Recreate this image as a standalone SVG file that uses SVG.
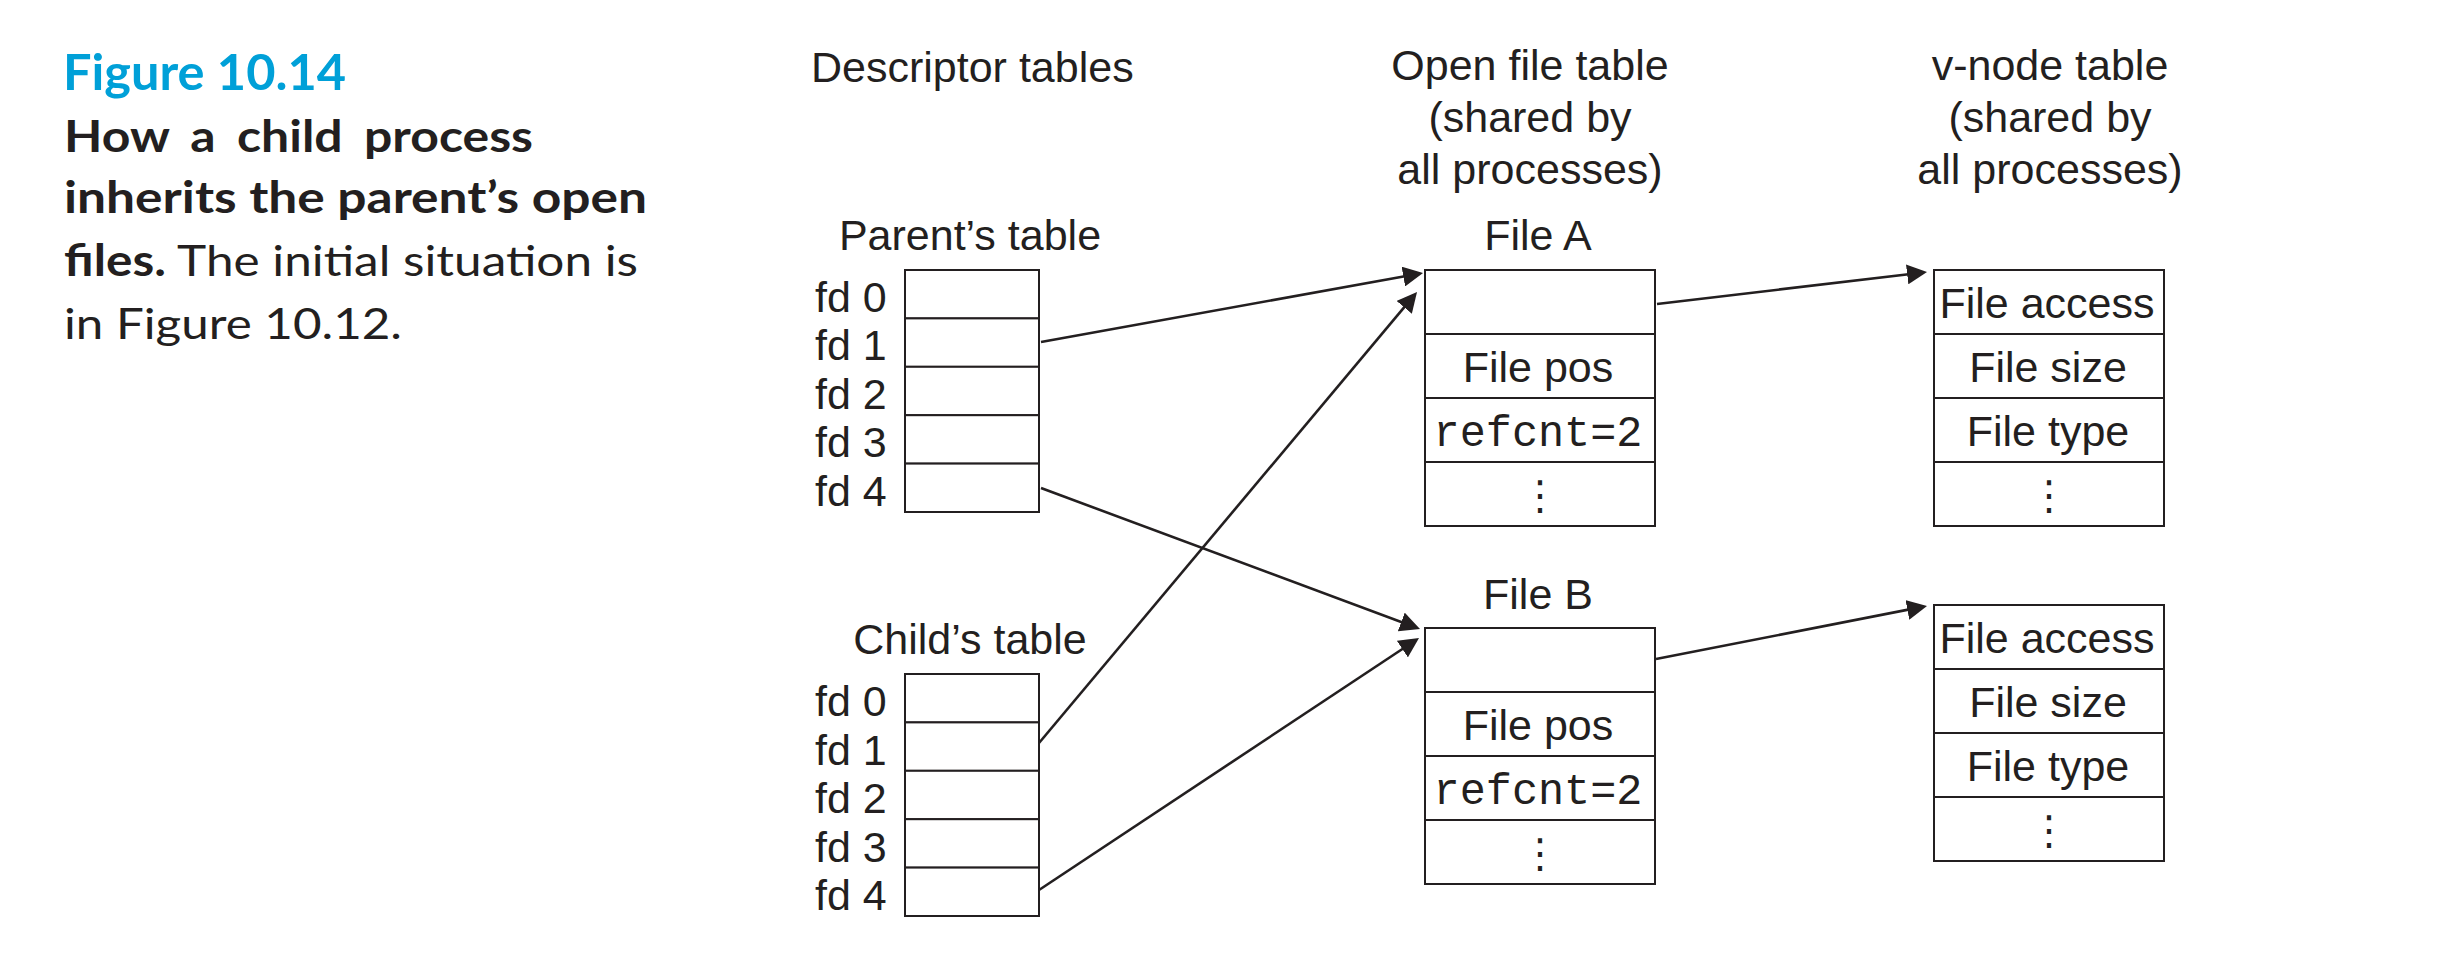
<svg xmlns="http://www.w3.org/2000/svg" width="2446" height="968" viewBox="0 0 2446 968">
<style>
  .bg { fill: #ffffff; }
  .cell { fill: #ffffff; stroke: #231f20; stroke-width: 2; }
  .t { font-family: "Liberation Sans", Arial, sans-serif; font-size: 43px; fill: #231f20; }
  .c { text-anchor: middle; }
  .mono { font-family: "Liberation Mono", "Courier New", monospace; font-size: 43.5px; fill: #231f20; text-anchor: middle; }
  .dots { font-family: "DejaVu Sans", sans-serif; font-size: 40px; fill: #231f20; text-anchor: middle; }
  .fig { font-family: Lato, "Open Sans", sans-serif; font-size: 50px; font-weight: 700; fill: #00a0d8; }
  .cap { font-family: Lato, "Open Sans", sans-serif; font-size: 43px; fill: #231f20; }
  .b { font-weight: 700; }
  .conn { fill: none; stroke: #231f20; stroke-width: 2.6; marker-end: url(#arrow); }
</style>
<defs>
  <marker id="arrow" viewBox="0 0 20 20" markerWidth="20" markerHeight="20" refX="10" refY="10" orient="auto" markerUnits="userSpaceOnUse">
    <path d="M0,0 L20,10 L0,20 z" fill="#231f20"/>
  </marker>
</defs>
<rect class="bg" x="0" y="0" width="2446" height="968"/>

<g id="caption">
  <text x="63" y="90" class="fig" textLength="283" lengthAdjust="spacingAndGlyphs">Figure 10.14</text>
  <text x="64" y="152" class="cap b" word-spacing="8" textLength="469" lengthAdjust="spacingAndGlyphs">How a child process</text>
  <text x="64" y="213" class="cap b" textLength="583" lengthAdjust="spacingAndGlyphs">inherits the parent’s open</text>
  <text x="64" y="276" class="cap" textLength="574" lengthAdjust="spacingAndGlyphs"><tspan font-weight="700">files.</tspan> The initial situation is</text>
  <text x="64" y="339" class="cap" textLength="338" lengthAdjust="spacingAndGlyphs">in Figure 10.12.</text>
</g>

<g id="headers">
  <text x="811" y="82" class="t">Descriptor tables</text>
  <text x="1530" y="80" class="t c">Open file table</text>
  <text x="1530" y="132" class="t c">(shared by</text>
  <text x="1530" y="184" class="t c">all processes)</text>
  <text x="2050" y="80" class="t c">v-node table</text>
  <text x="2050" y="132" class="t c">(shared by</text>
  <text x="2050" y="184" class="t c">all processes)</text>
</g>

<g id="parent-table">
  <text x="970" y="250" class="t c">Parent’s table</text>
  <rect class="cell" x="905" y="270" width="134" height="48.4"/>
  <rect class="cell" x="905" y="318.4" width="134" height="48.4"/>
  <rect class="cell" x="905" y="366.8" width="134" height="48.4"/>
  <rect class="cell" x="905" y="415.2" width="134" height="48.4"/>
  <rect class="cell" x="905" y="463.6" width="134" height="48.4"/>
  <text x="815" y="311.5" class="t">fd 0</text>
  <text x="815" y="360" class="t">fd 1</text>
  <text x="815" y="408.5" class="t">fd 2</text>
  <text x="815" y="457" class="t">fd 3</text>
  <text x="815" y="505.5" class="t">fd 4</text>
</g>

<g id="child-table">
  <text x="970" y="654" class="t c">Child’s table</text>
  <rect class="cell" x="905" y="674" width="134" height="48.4"/>
  <rect class="cell" x="905" y="722.4" width="134" height="48.4"/>
  <rect class="cell" x="905" y="770.8" width="134" height="48.4"/>
  <rect class="cell" x="905" y="819.2" width="134" height="48.4"/>
  <rect class="cell" x="905" y="867.6" width="134" height="48.4"/>
  <text x="815" y="716" class="t">fd 0</text>
  <text x="815" y="764.5" class="t">fd 1</text>
  <text x="815" y="813" class="t">fd 2</text>
  <text x="815" y="861.5" class="t">fd 3</text>
  <text x="815" y="910" class="t">fd 4</text>
</g>

<g id="file-a">
  <text x="1538" y="250" class="t c">File A</text>
  <rect class="cell" x="1425" y="270" width="230" height="64"/>
  <rect class="cell" x="1425" y="334" width="230" height="64"/>
  <rect class="cell" x="1425" y="398" width="230" height="64"/>
  <rect class="cell" x="1425" y="462" width="230" height="64"/>
  <text x="1538" y="381.5" class="t c">File pos</text>
  <text x="1538" y="445.5" class="mono">refcnt=2</text>
  <text x="1540" y="509" class="dots">⋮</text>
</g>

<g id="file-b">
  <text x="1538" y="609" class="t c">File B</text>
  <rect class="cell" x="1425" y="628" width="230" height="64"/>
  <rect class="cell" x="1425" y="692" width="230" height="64"/>
  <rect class="cell" x="1425" y="756" width="230" height="64"/>
  <rect class="cell" x="1425" y="820" width="230" height="64"/>
  <text x="1538" y="739.5" class="t c">File pos</text>
  <text x="1538" y="803.5" class="mono">refcnt=2</text>
  <text x="1540" y="867" class="dots">⋮</text>
</g>

<g id="vnode-a">
  <rect class="cell" x="1934" y="270" width="230" height="64"/>
  <rect class="cell" x="1934" y="334" width="230" height="64"/>
  <rect class="cell" x="1934" y="398" width="230" height="64"/>
  <rect class="cell" x="1934" y="462" width="230" height="64"/>
  <text x="2047" y="317.5" class="t c">File access</text>
  <text x="2048" y="381.5" class="t c">File size</text>
  <text x="2048" y="445.5" class="t c">File type</text>
  <text x="2049" y="509" class="dots">⋮</text>
</g>

<g id="vnode-b">
  <rect class="cell" x="1934" y="605" width="230" height="64"/>
  <rect class="cell" x="1934" y="669" width="230" height="64"/>
  <rect class="cell" x="1934" y="733" width="230" height="64"/>
  <rect class="cell" x="1934" y="797" width="230" height="64"/>
  <text x="2047" y="652.5" class="t c">File access</text>
  <text x="2048" y="716.5" class="t c">File size</text>
  <text x="2048" y="780.5" class="t c">File type</text>
  <text x="2049" y="844" class="dots">⋮</text>
</g>

<g id="connectors">
  <line class="conn" x1="1041" y1="342" x2="1413.2" y2="274.8"/>
  <line class="conn" x1="1041" y1="488" x2="1410.6" y2="625.5"/>
  <line class="conn" x1="1039" y1="743" x2="1410.6" y2="299.7"/>
  <line class="conn" x1="1039" y1="890" x2="1410.7" y2="643.5"/>
  <line class="conn" x1="1657" y1="304" x2="1917.1" y2="273.2"/>
  <line class="conn" x1="1656" y1="659" x2="1917.2" y2="607.9"/>
</g>
</svg>
